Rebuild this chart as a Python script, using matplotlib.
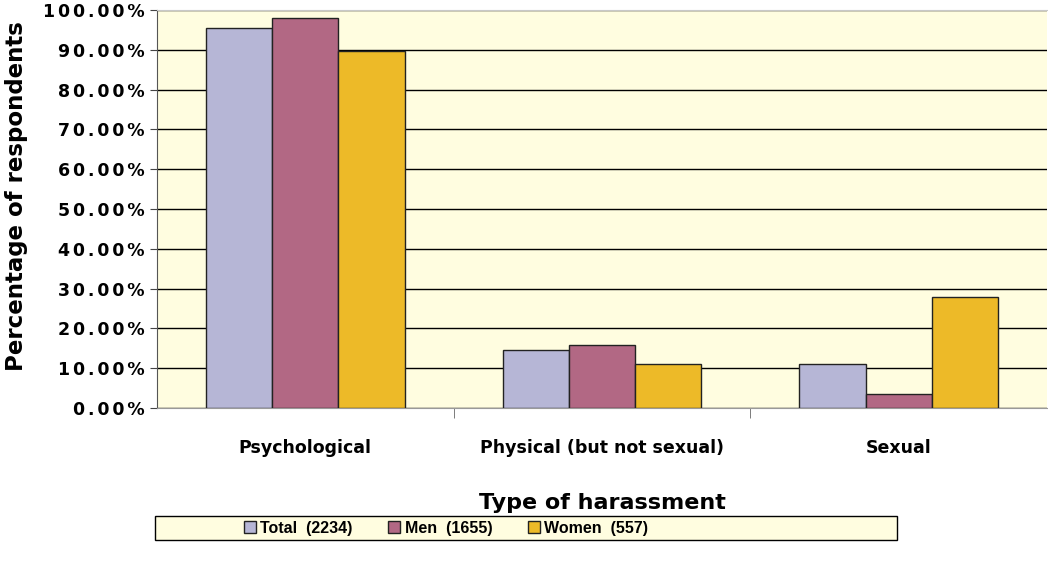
import numpy as np
import matplotlib.pyplot as plt
from matplotlib.ticker import MultipleLocator, FuncFormatter
from matplotlib.patches import Rectangle

categories = ['Psychological', 'Physical (but not sexual)', 'Sexual']
series = ['Total  (2234)', 'Men  (1655)', 'Women  (557)']
total = [95.5, 14.6, 11.0]
men = [98.0, 15.8, 3.5]
women = [89.7, 11.1, 28.0]
colors = ['#B6B6D6', '#B26884', '#EDBA28']

plt.rcParams['font.family'] = ['DejaVu Sans']
plt.rcParams['font.weight'] = 'bold'

fig = plt.figure(figsize=(10.48, 5.61), dpi=100)
ax = fig.add_axes([157/1048, 1 - 408/561, 890/1048, 398/561])
ax.set_facecolor('#FFFDE0')

x = np.arange(len(categories))
w = 0.223
for i, (vals, c, lab) in enumerate(zip([total, men, women], colors, series)):
    ax.bar(x + (i - 1) * w, vals, w, color=c, edgecolor='#222222', linewidth=1,
           label=lab, zorder=3)

ax.set_xlim(-0.5, 2.5)
ax.set_ylim(0, 100)
ax.yaxis.set_major_locator(MultipleLocator(10))
# spaced-out tick labels like the original
ax.yaxis.set_major_formatter(FuncFormatter(lambda v, p: '\u2006'.join(f'{v:.2f}%')))
ax.grid(axis='y', color='black', linewidth=1, zorder=1)

ax.set_xticks(x)
ax.set_xticklabels(categories, fontsize=12.5, fontweight='bold')
ax.tick_params(axis='x', length=0, pad=22)
ax.set_xticks([0.5, 1.5], minor=True)
ax.tick_params(axis='x', which='minor', length=7, direction='out', color='#666666')
ax.tick_params(axis='y', labelsize=12.5, length=5, direction='out', color='#444444', pad=4)

ax.spines['top'].set_color('#C8C8C8')
ax.spines['right'].set_visible(False)
ax.spines['left'].set_color('#555555')
ax.spines['bottom'].set_color('#999999')

ax.set_ylabel('Percentage of respondents', fontsize=16.5, fontweight='bold')
ax.yaxis.set_label_coords(-129/890, 0.533)
ax.set_xlabel('Type of harassment', fontsize=16, fontweight='bold', labelpad=26)

fig.patches.append(Rectangle((155/1048, 1 - 540/561), 742/1048, 24/561,
                             transform=fig.transFigure, facecolor='#FFFDE0',
                             edgecolor='black', linewidth=1, zorder=0))
leg = fig.legend(loc='center', bbox_to_anchor=(446/1048, 1 - 528/561), ncol=3,
                 prop={'family': 'Liberation Sans', 'weight': 'bold', 'size': 11.5},
                 frameon=False, handlelength=0.75, handleheight=0.75,
                 handletextpad=0.3, columnspacing=2.2, borderpad=0.2)

fig.savefig('out.png', dpi=100)
